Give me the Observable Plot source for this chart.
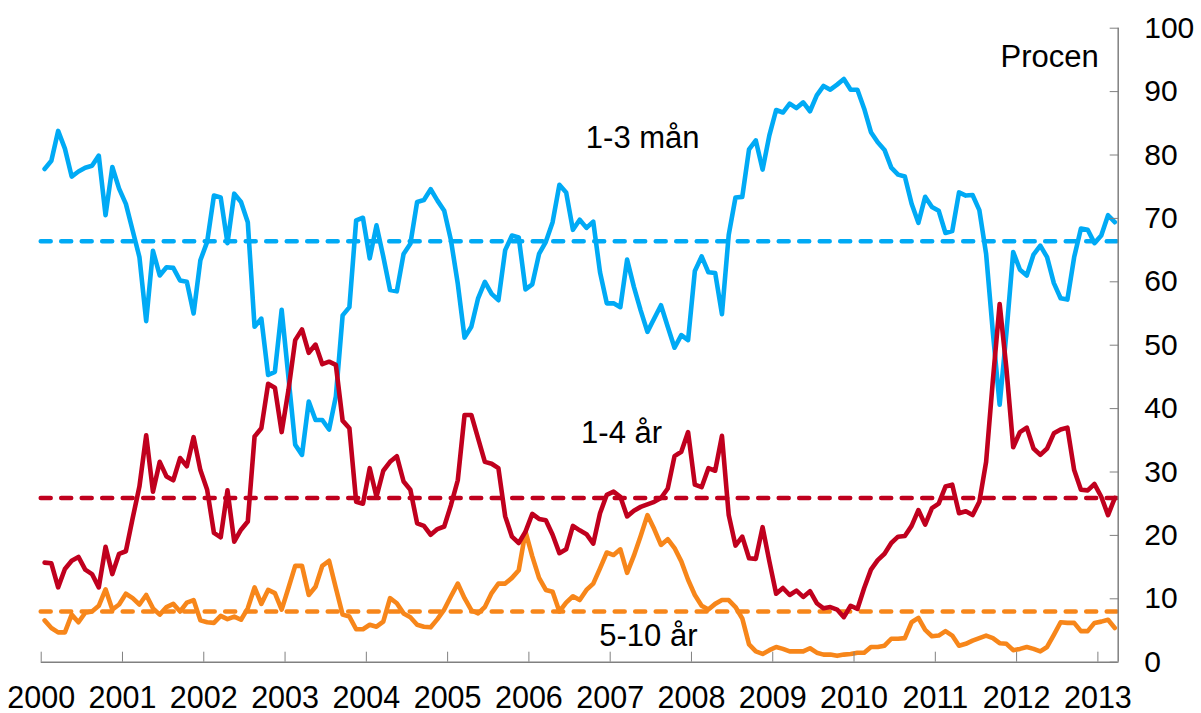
<!DOCTYPE html>
<html>
<head>
<meta charset="utf-8">
<script src="https://cdn.jsdelivr.net/npm/d3@7"></script>
<script src="https://cdn.jsdelivr.net/npm/@observablehq/plot@0.6"></script>
<style>
  html, body { margin: 0; padding: 0; background: #ffffff; }
  svg { display: block; }
</style>
</head>
<body>
<div id="chart"></div>
<script>
// Monthly observations, January 2000 – March 2013 (share in percent)
const startYear = 2000;

const months13 = [ // 1-3 mån
  77.8, 79.1, 83.8, 81.0, 76.6, 77.4, 78.0, 78.3, 79.9, 70.5, 78.1, 74.7,
  72.3, 68.1, 63.9, 53.8, 64.9, 61.0, 62.3, 62.2, 60.2, 60.0, 55.0, 63.4,
  66.3, 73.6, 73.3, 66.1, 73.9, 72.6, 69.4, 52.9, 54.2, 45.3, 45.8, 55.6,
  45.0, 34.3, 32.7, 41.1, 38.2, 38.2, 36.7, 41.9, 54.7, 56.0, 69.7, 70.1,
  63.7, 68.9, 64.0, 58.7, 58.5, 64.4, 66.0, 72.6, 72.9, 74.6, 72.8, 71.2,
  66.5, 59.7, 51.2, 52.9, 57.4, 60.0, 58.1, 57.1, 65.0, 67.3, 67.0, 58.8,
  59.6, 64.4, 66.3, 69.4, 75.3, 74.1, 68.2, 69.8, 68.5, 69.5, 61.5, 56.6,
  56.6, 56.0, 63.5, 59.2, 55.5, 52.1, 54.2, 56.3, 52.9, 49.6, 51.6, 50.8,
  61.7, 64.0, 61.5, 61.4, 54.9, 67.4, 73.3, 73.4, 80.9, 82.3, 77.7, 83.1,
  87.1, 86.7, 88.1, 87.4, 88.3, 86.9, 89.4, 90.9, 90.3, 91.1, 92.0, 90.3,
  90.3, 87.3, 83.6, 82.0, 80.8, 78.0, 76.9, 76.6, 72.3, 69.3, 73.4, 71.8,
  71.2, 67.7, 68.0, 74.1, 73.6, 73.7, 71.3, 64.4, 52.0, 40.6, 52.0, 64.7,
  61.9, 61.0, 64.3, 65.7, 63.9, 59.8, 57.4, 57.2, 63.9, 68.4, 68.2, 66.1,
  67.3, 70.5, 69.4
];

const years14 = [ // 1-4 år
  15.7, 15.6, 11.8, 14.7, 16.0, 16.6, 14.6, 13.9, 11.8, 18.2, 13.9, 17.1,
  17.5, 22.7, 27.7, 35.8, 26.9, 31.6, 29.3, 28.7, 32.2, 30.9, 35.5, 30.3,
  27.2, 20.4, 19.7, 27.1, 19.0, 20.9, 22.2, 35.6, 36.9, 43.9, 43.3, 36.3,
  42.9, 50.8, 52.5, 48.8, 50.1, 47.0, 47.4, 46.9, 38.1, 36.9, 25.3, 25.0,
  30.6, 26.1, 30.2, 31.6, 32.5, 28.5, 27.2, 21.9, 21.5, 20.1, 21.0, 21.4,
  24.8, 28.7, 39.0, 39.0, 35.3, 31.6, 31.3, 30.6, 23.0, 19.8, 18.8, 20.6,
  23.4, 22.6, 22.4, 20.1, 17.2, 17.8, 21.5, 20.8, 20.2, 18.7, 23.5, 26.4,
  26.9, 26.1, 23.0, 23.9, 24.5, 24.9, 25.3, 25.9, 27.4, 32.5, 33.2, 36.3,
  28.0, 27.6, 30.6, 30.2, 35.7, 23.2, 18.4, 19.8, 16.4, 16.3, 21.3, 15.9,
  10.8, 11.7, 10.6, 11.3, 10.3, 11.2, 9.3, 8.5, 8.7, 8.3, 7.1, 8.9,
  8.4, 11.7, 14.6, 16.1, 17.1, 18.8, 19.8, 19.9, 21.5, 24.0, 21.7, 24.3,
  25.0, 27.7, 28.0, 23.5, 23.8, 23.2, 25.3, 31.6, 44.5, 56.5, 46.3, 33.9,
  36.3, 37.0, 33.7, 32.7, 33.7, 36.1, 36.7, 37.0, 30.3, 27.2, 27.1, 28.1,
  26.1, 23.2, 25.9
];

const years510 = [ // 5-10 år
  6.6, 5.4, 4.7, 4.7, 7.5, 6.3, 7.8, 8.0, 8.9, 11.5, 8.3, 9.1,
  10.8, 10.1, 9.1, 10.6, 8.5, 7.5, 8.7, 9.2, 8.0, 9.4, 9.8, 6.6,
  6.3, 6.2, 7.3, 6.8, 7.2, 6.7, 8.5, 11.8, 9.2, 11.4, 10.9, 8.3,
  11.7, 15.2, 15.2, 10.6, 11.9, 15.2, 16.0, 11.7, 7.5, 7.2, 5.2, 5.2,
  5.9, 5.6, 6.4, 10.1, 9.3, 7.7, 7.1, 5.9, 5.6, 5.5, 6.8, 8.3,
  10.4, 12.4, 10.1, 8.2, 7.7, 8.7, 10.9, 12.4, 12.4, 13.3, 14.5, 20.6,
  16.7, 13.3, 11.4, 11.1, 8.0, 9.4, 10.4, 9.8, 11.4, 12.4, 14.8, 17.3,
  16.9, 17.8, 14.1, 16.8, 19.9, 23.2, 21.0, 18.5, 19.4, 18.0, 15.9, 13.0,
  10.6, 8.9, 8.3, 9.2, 9.8, 9.8, 8.7, 6.9, 2.8, 1.7, 1.3, 1.9,
  2.4, 2.1, 1.7, 1.7, 1.7, 2.2, 1.5, 1.2, 1.2, 1.0, 1.2, 1.3,
  1.5, 1.5, 2.4, 2.4, 2.6, 3.7, 3.7, 3.8, 6.3, 7.0, 5.1, 4.1,
  4.2, 4.9, 4.2, 2.6, 2.9, 3.4, 3.8, 4.2, 3.8, 3.0, 2.9, 1.9,
  2.1, 2.4, 2.1, 1.7, 2.4, 4.3, 6.3, 6.2, 6.2, 4.9, 4.9, 6.2,
  6.4, 6.7, 5.4
];

const seriesNames = ["1-3 mån", "1-4 år", "5-10 år"];
const seriesAverages = [66.4, 25.9, 8.0];
const seriesColors = ["#00AAF5", "#C0001E", "#F7861A"];

const xTicks = d3.range(2000, 2014);      // 2000 ... 2013
const yTicks = d3.range(0, 101, 10);      // 0 ... 100
const xDomainEnd = 2013.25;

// in-chart series labels (data coordinates)
const labelText = ["1-3 mån", "1-4 år", "5-10 år"];
const labelX = [2007.40, 2007.14, 2007.47];
const labelY = [82.6, 36.2, 4.1];
const unitText = "Procen";
const unitX = 2013.01;
const unitY = 95.4;

// ---- build tables ----
const allValues = [months13, years14, years510];
const rows = allValues.flatMap((vals, k) =>
  vals.map((v, i) => ({ t: startYear + (i + 0.5) / 12, v, name: seriesNames[k] }))
);
const seriesRows = seriesNames.map(n => rows.filter(r => r.name === n));
const labels = labelText.map((t, i) => ({ text: t, x: labelX[i], y: labelY[i] }));
const axisGray = "#808080";

const marks = [];
// dashed average lines
seriesAverages.forEach((a, k) => {
  marks.push(Plot.ruleY([a], {
    stroke: seriesColors[k], strokeWidth: 4.5,
    strokeDasharray: "10,10.5", strokeLinecap: "round"
  }));
});
// series lines: orange, blue, red (red on top)
[2, 0, 1].forEach(k => {
  marks.push(Plot.line(seriesRows[k], {
    x: "t", y: "v", stroke: seriesColors[k], strokeWidth: 4.6,
    strokeLinejoin: "round", strokeLinecap: "round"
  }));
});
// axis lines
marks.push(Plot.ruleY([0], { stroke: axisGray, strokeWidth: 1.5 }));
marks.push(Plot.ruleX([xDomainEnd], { stroke: axisGray, strokeWidth: 1.5 }));
// inward ticks
marks.push(Plot.axisX(xTicks, { anchor: "bottom", tickSize: 10, dy: -10, stroke: axisGray, fill: "none", label: null }));
marks.push(Plot.axisY(yTicks, { anchor: "right", tickSize: 9, dx: -9, stroke: axisGray, fill: "none", label: null }));
// tick labels
marks.push(Plot.axisX(xTicks, { anchor: "bottom", tickSize: 0, tickPadding: 24, fontSize: 30.5, fill: "black", tickFormat: d => String(d), label: null }));
marks.push(Plot.axisY(yTicks, { anchor: "right", tickSize: 0, tickPadding: 26, fontSize: 30, fill: "black", tickFormat: d => String(d), label: null }));
// labels
marks.push(Plot.text(labels, { x: "x", y: "y", text: "text", fontSize: 31, textAnchor: "middle", lineAnchor: "middle", fill: "black" }));
marks.push(Plot.text([unitText], { x: () => unitX, y: () => unitY, text: d => d, fontSize: 31, textAnchor: "end", lineAnchor: "middle", fill: "black" }));

const chart = Plot.plot({
  width: 1201,
  height: 713,
  marginLeft: 40.7,
  marginRight: 83.3,
  marginTop: 27.7,
  marginBottom: 51.3,
  x: { type: "linear", domain: [2000, xDomainEnd] },
  y: { type: "linear", domain: [0, 100] },
  style: { fontFamily: "'Liberation Sans', Arial, sans-serif", background: "#ffffff", color: "black" },
  marks
});
document.getElementById("chart").appendChild(chart);
</script>
</body>
</html>
